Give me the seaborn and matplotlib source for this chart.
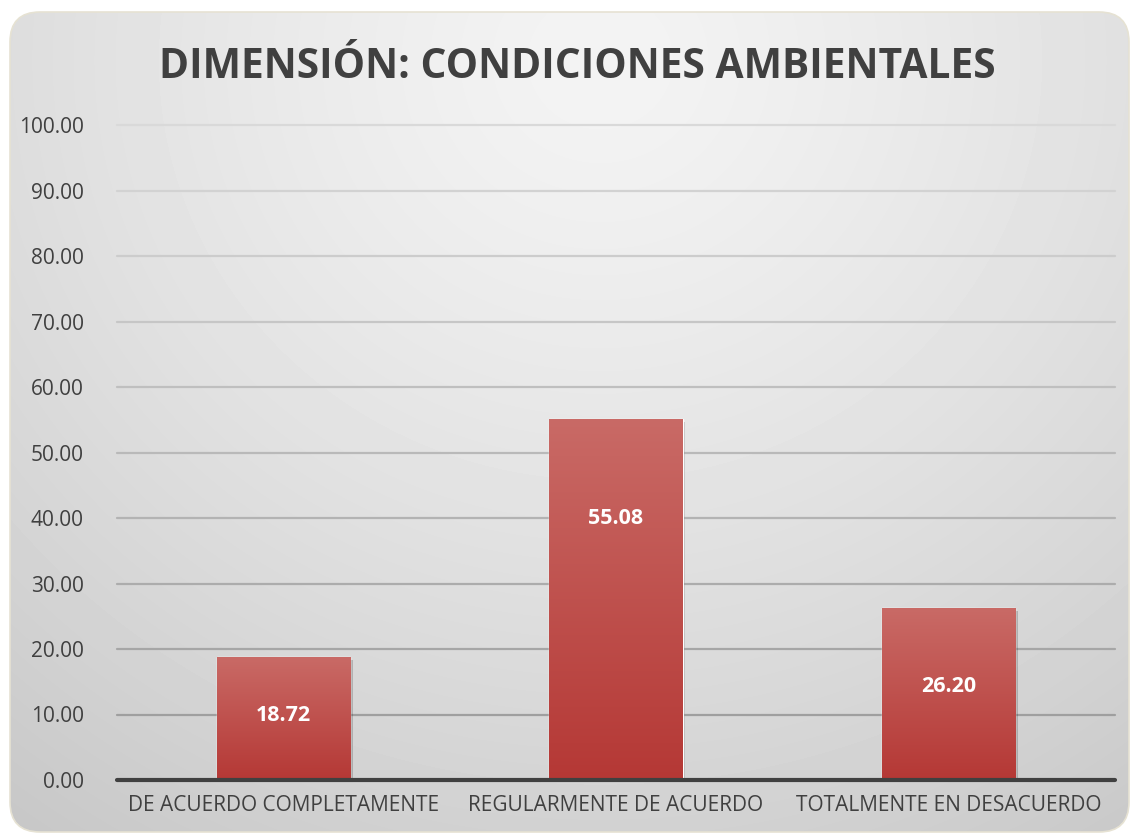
import numpy as np
import pandas as pd
import matplotlib
matplotlib.use("Agg")
import matplotlib.pyplot as plt
import matplotlib.patheffects as pe
from matplotlib.patches import FancyBboxPatch
import seaborn as sns

# --- datos del gráfico ---
categorias = ["DE ACUERDO COMPLETAMENTE", "REGULARMENTE DE ACUERDO", "TOTALMENTE EN DESACUERDO"]
porcentajes = [18.72, 55.08, 26.20]
etiquetas = ["18.72", "55.08", "26.20"]
titulo = "DIMENSIÓN: CONDICIONES AMBIENTALES"

# altura de cada etiqueta dentro de la barra (posición manual, como en el original)
pos_etiqueta = [9.8, 40.0, 14.3]

df = pd.DataFrame({"categoria": categorias, "valor": porcentajes})

sns.set_style("white")
plt.rcParams["font.family"] = ["Open Sans", "DejaVu Sans"]

W, H = 1132, 835
fig = plt.figure(figsize=(W / 100, H / 100), dpi=100)
fig.patch.set_facecolor("white")

# --- fondo: rectángulo redondeado con degradado radial ---
bg = fig.add_axes([0, 0, 1, 1])
bg.set_xlim(0, W)
bg.set_ylim(H, 0)
bg.axis("off")
yy, xx = np.mgrid[0:H, 0:W]
d = np.sqrt(((xx - 600) / 1000.0) ** 2 + ((yy - 60) / 950.0) ** 2)
d = np.clip(d, 0, 1)
c0, c1 = 0.955, 0.78
grad = c0 + (c1 - c0) * d ** 1.3
img = bg.imshow(grad, cmap="gray", vmin=0, vmax=1, extent=(0, W, H, 0), aspect="auto", zorder=0)
caja = FancyBboxPatch((10, 12), 1119, 820, boxstyle="round,pad=0,rounding_size=30",
                      facecolor="none", edgecolor="#e6e2d3", linewidth=1.2, zorder=1)
bg.add_patch(caja)
img.set_clip_path(caja)

# --- área de trazado ---
ax = fig.add_axes([117 / W, 1 - 780 / H, (1115 - 117) / W, (780 - 125) / H])
ax.set_facecolor("none")

sns.barplot(data=df, x="categoria", y="valor", ax=ax, color="#c0504d",
            width=0.40, saturation=1, zorder=3)

ax.set_ylim(0, 100)
ax.set_xlim(-0.5, 2.5)
ticks = np.arange(0, 101, 10)
ax.set_yticks(ticks)
ax.set_yticklabels([f"{t:.2f}" for t in ticks], fontsize=15, color="#404040")
ax.tick_params(axis="y", length=0, pad=24)
ax.tick_params(axis="x", length=0, pad=11, labelsize=15, labelcolor="#404040")
ax.set_xlabel("")
ax.set_ylabel("")
for s in ax.spines.values():
    s.set_visible(False)

# líneas de división (más claras arriba, más oscuras abajo)
claro = np.array([0.85, 0.85, 0.85])
oscuro = np.array([0.60, 0.60, 0.60])
for t in ticks[1:]:
    f = t / 100.0
    col = oscuro + (claro - oscuro) * f
    ax.axhline(t, color=col, linewidth=1.6, zorder=1, clip_on=False)
ax.axhline(0, color="#404040", linewidth=3, zorder=5, clip_on=False)

# barras con degradado y sombra suave
top = np.array([0xc9, 0x6a, 0x66]) / 255
bot = np.array([0xb5, 0x38, 0x35]) / 255
g = np.linspace(0, 1, 256)[:, None]
rgb = top[None, None, :] * (1 - g[:, :, None]) + bot[None, None, :] * g[:, :, None]
for p in ax.patches:
    p.set_path_effects([pe.SimplePatchShadow(offset=(2, -2), shadow_rgbFace="black", alpha=0.18),
                        pe.Normal()])
    x0, w, h = p.get_x(), p.get_width(), p.get_height()
    im = ax.imshow(rgb, extent=(x0, x0 + w, 0, h), aspect="auto", zorder=4,
                   interpolation="bilinear")
    im.set_clip_path(p)
ax.set_xlim(-0.5, 2.5)
ax.set_ylim(0, 100)

for i, (txt, yp) in enumerate(zip(etiquetas, pos_etiqueta)):
    ax.text(i, yp, txt, ha="center", va="center", fontsize=15.5, fontweight="bold",
            color="white", zorder=6)

fig.text(577 / W, 1 - 67 / H, titulo, ha="center", va="center", fontsize=29.3,
         fontweight="bold", color="#404040")

fig.savefig("out.png", dpi=100)
